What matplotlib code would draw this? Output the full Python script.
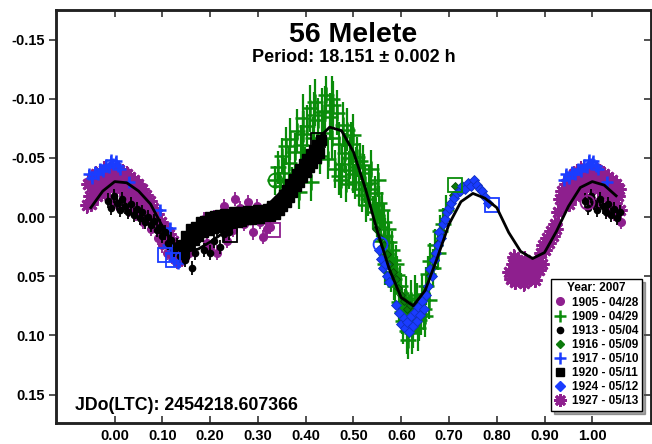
import numpy as np
import matplotlib
matplotlib.use("Agg")
import matplotlib.pyplot as plt
from matplotlib.lines import Line2D

plt.rcParams['font.family'] = ['Liberation Sans', 'DejaVu Sans']
plt.rcParams['font.weight'] = 'bold'
plt.rcParams['axes.unicode_minus'] = False

# ---- data (phase, reduced magnitude) ----
# 1905 - 04/28  purple circles
ph_1905 = [0.985, 0.995, 0.005, 0.015, 0.030, 0.045, 0.060, 0.075, 0.090, 0.100, 0.110, 0.120,
           0.130, 0.140, 0.155, 0.165, 0.175, 0.186, 0.193, 0.200, 0.207, 0.215, 0.228, 0.235,
           0.248, 0.252, 0.262, 0.270, 0.280, 0.290, 0.298, 0.305, 0.310, 0.318, 0.325]
mag_1905 = [-0.016, -0.013, -0.011, -0.014, -0.006, -0.003, 0.004, 0.010, 0.018, 0.024, 0.030, 0.034,
            0.038, 0.036, 0.030, 0.017, 0.012, 0.002, 0.022, 0.026, 0.000, 0.030, -0.009, 0.020,
            0.011, -0.015, -0.008, 0.006, -0.013, 0.013, -0.009, 0.004, 0.017, 0.010, 0.008]

# 1909 - 04/29  green plus, large errors
ph_1909 = [0.336, 0.341, 0.346, 0.350, 0.355, 0.359, 0.364, 0.368, 0.372, 0.377, 0.381, 0.386,
           0.390, 0.394, 0.399, 0.403, 0.408, 0.412, 0.416, 0.420, 0.425, 0.429, 0.433, 0.437,
           0.442, 0.446, 0.450, 0.454, 0.458, 0.462, 0.466, 0.470, 0.474, 0.478, 0.482, 0.486,
           0.490, 0.495, 0.500, 0.504, 0.508, 0.514, 0.518, 0.522, 0.527, 0.532, 0.537, 0.541,
           0.546, 0.551, 0.556, 0.560, 0.565, 0.569, 0.574, 0.578, 0.583, 0.587, 0.592, 0.596,
           0.600, 0.604, 0.608, 0.612, 0.617, 0.621, 0.625, 0.630, 0.634, 0.638, 0.643, 0.647,
           0.652, 0.656, 0.661, 0.666, 0.671, 0.676, 0.681, 0.687, 0.693,
           0.470, 0.476, 0.484, 0.492, 0.498, 0.506, 0.512, 0.520, 0.525, 0.530, 0.535, 0.544,
           0.549, 0.553, 0.558, 0.563, 0.567, 0.572, 0.580, 0.585, 0.590, 0.598, 0.602, 0.610,
           0.615, 0.623, 0.628, 0.636, 0.641, 0.650, 0.658, 0.395, 0.418, 0.440, 0.456]
mag_1909 = [-0.031, -0.042, -0.026, -0.052, -0.037, -0.060, -0.046, -0.066, -0.030, -0.055, -0.073, -0.021,
            -0.061, -0.084, -0.044, -0.077, -0.092, -0.030, -0.067, -0.097, -0.082, -0.052, -0.089, -0.071,
            -0.103, -0.049, -0.085, -0.067, -0.095, -0.041, -0.088, -0.062, -0.031, -0.078, -0.054, -0.074,
            -0.040, -0.062, -0.069, -0.030, -0.051, -0.047, -0.019, -0.037, -0.010, -0.029, -0.041, -0.004,
            -0.020, -0.031, 0.008, -0.006, 0.016, 0.031, 0.021, 0.046, 0.036, 0.058, 0.049, 0.072,
            0.064, 0.088, 0.079, 0.096, 0.084, 0.070, 0.092, 0.080, 0.073, 0.087, 0.065, 0.078,
            0.058, 0.048, 0.037, 0.043, 0.024, 0.030, 0.012, 0.006, -0.006,
            -0.035, -0.045, -0.028, -0.050, -0.036, -0.042, -0.024, -0.044, -0.028, -0.015, -0.024, -0.010,
            0.002, -0.012, 0.020, 0.004, 0.040, 0.010, 0.028, 0.052, 0.040, 0.058, 0.080, 0.068,
            0.104, 0.098, 0.066, 0.094, 0.082, 0.084, 0.070, -0.070, -0.086, -0.090, -0.100]
err_1909 = [0.012, 0.014, 0.012, 0.015, 0.013, 0.016, 0.014, 0.018, 0.012, 0.016, 0.018, 0.014,
            0.017, 0.020, 0.015, 0.018, 0.020, 0.016, 0.018, 0.020, 0.019, 0.016, 0.020, 0.018,
            0.016, 0.017, 0.020, 0.018, 0.020, 0.016, 0.019, 0.018, 0.015, 0.019, 0.017, 0.018,
            0.016, 0.018, 0.018, 0.015, 0.017, 0.016, 0.015, 0.016, 0.014, 0.015, 0.016, 0.014,
            0.015, 0.014, 0.014, 0.015, 0.015, 0.016, 0.015, 0.017, 0.016, 0.017, 0.016, 0.018,
            0.017, 0.019, 0.018, 0.020, 0.018, 0.017, 0.019, 0.018, 0.017, 0.018, 0.016, 0.017,
            0.016, 0.015, 0.015, 0.016, 0.014, 0.015, 0.014, 0.014, 0.013,
            0.016, 0.017, 0.015, 0.018, 0.016, 0.017, 0.015, 0.017, 0.016, 0.014, 0.015, 0.014,
            0.015, 0.014, 0.016, 0.015, 0.017, 0.015, 0.016, 0.018, 0.016, 0.017, 0.019, 0.018,
            0.016, 0.018, 0.017, 0.019, 0.018, 0.017, 0.016, 0.020, 0.020, 0.021, 0.019]

# 1913 - 05/04  small black circles
ph_1913 = [0.985, 0.992, 0.998, 0.004, 0.010, 0.016, 0.022, 0.028, 0.034, 0.040, 0.046, 0.052,
           0.058, 0.064, 0.070, 0.076, 0.082, 0.088, 0.094, 0.100, 0.106, 0.112, 0.118, 0.124,
           0.130, 0.136, 0.142, 0.148, 0.154, 0.161, 0.168, 0.174, 0.179, 0.186, 0.193, 0.200,
           0.207, 0.214, 0.220, 0.228, 0.235, 0.240, 0.246]
mag_1913 = [-0.014, -0.008, -0.018, -0.012, -0.006, -0.015, -0.009, -0.004, -0.011, -0.002, -0.007, 0.001,
            -0.004, 0.004, 0.000, 0.007, 0.003, 0.011, 0.008, 0.016, 0.013, 0.022, 0.019, 0.028,
            0.024, 0.033, 0.028, 0.036, 0.022, 0.043, 0.030, 0.018, 0.016, 0.028, 0.012, 0.030,
            0.020, 0.010, 0.025, 0.014, 0.008, 0.013, 0.006]

# 1916 - 05/09  green diamonds
ph_1916 = [0.548, 0.556, 0.563, 0.570, 0.575, 0.582, 0.588, 0.594, 0.600, 0.606, 0.612, 0.618,
           0.624, 0.630, 0.636, 0.642, 0.648, 0.654, 0.660, 0.666, 0.672, 0.678, 0.684, 0.690,
           0.696, 0.702, 0.708, 0.712]
mag_1916 = [0.010, 0.018, 0.024, 0.031, 0.040, 0.046, 0.052, 0.060, 0.066, 0.071, 0.078, 0.074,
            0.082, 0.077, 0.079, 0.072, 0.066, 0.059, 0.049, 0.042, 0.031, 0.022, 0.012, 0.002,
            -0.006, -0.012, -0.019, -0.026]

# 1917 - 05/10  blue plus
ph_1917 = [0.940, 0.946, 0.952, 0.958, 0.964, 0.970, 0.976, 0.982, 0.988, 0.993, 0.997, 0.002,
           0.007, 0.011, 0.030, 0.095, 0.116, 0.112, 0.118, 0.124, 0.128, 0.132]
mag_1917 = [-0.031, -0.036, -0.033, -0.038, -0.036, -0.041, -0.039, -0.044, -0.042, -0.048, -0.045, -0.047,
            -0.043, -0.041, -0.030, -0.006, 0.009, 0.024, 0.030, 0.036, 0.027, 0.039]

# 1920 - 05/11  black squares (dense band)
ph_1920 = [0.140, 0.150, 0.160, 0.170, 0.180, 0.190, 0.200, 0.210, 0.220, 0.230, 0.240, 0.250,
           0.260, 0.270, 0.280, 0.290, 0.300, 0.310, 0.320, 0.330, 0.340, 0.347, 0.354, 0.361,
           0.368, 0.375, 0.382, 0.389, 0.396, 0.403, 0.410, 0.417, 0.424, 0.431,
           0.145, 0.155, 0.165, 0.175, 0.185, 0.195, 0.205, 0.215, 0.225, 0.235, 0.245, 0.255,
           0.265, 0.275, 0.285, 0.295, 0.305, 0.315, 0.325, 0.335, 0.344, 0.351, 0.358, 0.365,
           0.372, 0.379, 0.386, 0.393, 0.400, 0.407, 0.414, 0.421, 0.428]
mag_1920 = [0.024, 0.016, 0.010, 0.008, 0.004, 0.003, 0.000, -0.001, -0.002, -0.003, -0.002, -0.004,
            -0.004, -0.003, -0.005, -0.004, -0.006, -0.005, -0.007, -0.009, -0.010, -0.014, -0.019, -0.023,
            -0.028, -0.032, -0.036, -0.041, -0.045, -0.049, -0.053, -0.057, -0.061, -0.065,
            0.030, 0.024, 0.019, 0.016, 0.013, 0.011, 0.009, 0.008, 0.006, 0.006, 0.004, 0.004,
            0.003, 0.002, 0.002, 0.001, 0.001, 0.000, -0.001, -0.003, -0.006, -0.009, -0.013, -0.017,
            -0.021, -0.026, -0.030, -0.034, -0.038, -0.042, -0.046, -0.050, -0.054]

# 1924 - 05/12  blue diamonds
ph_1924 = [0.553, 0.558, 0.562, 0.566, 0.570, 0.575, 0.590, 0.596, 0.600, 0.605, 0.608, 0.612,
           0.616, 0.620, 0.624, 0.628, 0.632, 0.636, 0.640, 0.644, 0.648, 0.652, 0.656, 0.660,
           0.664, 0.668, 0.672, 0.676, 0.680, 0.684, 0.688, 0.692, 0.696, 0.700, 0.704, 0.710,
           0.716, 0.722, 0.728, 0.734, 0.740, 0.746, 0.752, 0.758, 0.764, 0.770, 0.776, 0.782]
mag_1924 = [0.028, 0.035, 0.043, 0.040, 0.050, 0.055, 0.074, 0.081, 0.090, 0.085, 0.094, 0.089,
            0.097, 0.084, 0.092, 0.080, 0.088, 0.076, 0.083, 0.071, 0.078, 0.066, 0.058, 0.044,
            0.050, 0.036, 0.030, 0.024, 0.013, 0.018, 0.006, 0.002, -0.004, -0.008, -0.012, -0.016,
            -0.020, -0.022, -0.026, -0.024, -0.029, -0.026, -0.031, -0.027, -0.024, -0.022, -0.017, -0.012]

# 1927 - 05/13  purple asterisks
ph_1927 = [0.825, 0.830, 0.834, 0.838, 0.842, 0.846, 0.850, 0.853, 0.857, 0.861, 0.865, 0.869,
           0.873, 0.878, 0.883, 0.888, 0.893, 0.897, 0.901, 0.905, 0.909, 0.913, 0.917, 0.921,
           0.925, 0.929, 0.933, 0.937, 0.941, 0.945, 0.949, 0.953, 0.957, 0.961, 0.965, 0.969,
           0.973, 0.977, 0.981, 0.985, 0.989, 0.993, 0.997, 0.001, 0.005, 0.009, 0.013, 0.017,
           0.021, 0.025, 0.029, 0.033, 0.037, 0.041, 0.045, 0.049, 0.053, 0.057, 0.061, 0.065,
           0.069, 0.073, 0.077, 0.081, 0.085, 0.089, 0.093, 0.097, 0.101, 0.105, 0.109, 0.113,
           0.117, 0.121, 0.125, 0.129, 0.133,
           0.951, 0.963, 0.975, 0.987, 0.999, 0.011, 0.023, 0.035, 0.047, 0.059, 0.071,
           0.836, 0.859, 0.880, 0.895]
mag_1927 = [0.046, 0.052, 0.040, 0.055, 0.047, 0.038, 0.050, 0.043, 0.056, 0.046, 0.040, 0.052,
            0.044, 0.048, 0.038, 0.045, 0.030, 0.024, 0.028, 0.018, 0.022, 0.012, 0.016, 0.006,
            0.010, -0.004, -0.015, -0.022, -0.010, -0.028, -0.018, -0.032, -0.024, -0.036, -0.027, -0.038,
            -0.030, -0.040, -0.031, -0.038, -0.033, -0.041, -0.034, -0.039, -0.032, -0.040, -0.034, -0.038,
            -0.031, -0.036, -0.028, -0.034, -0.026, -0.031, -0.022, -0.028, -0.018, -0.024, -0.014, -0.019,
            -0.009, -0.014, -0.004, -0.008, 0.002, -0.003, 0.008, 0.004, 0.013, 0.009, 0.018, 0.014,
            0.024, 0.020, 0.030, 0.026, 0.036,
            -0.011, -0.018, -0.022, -0.025, -0.026, -0.024, -0.021, -0.017, -0.012, -0.006, 0.000,
            0.034, 0.036, 0.053, 0.040]

# first point of each session (open symbols)
start_ph = [0.336, 0.426, 0.241, 0.332, 0.105, 0.122, 0.555, 0.712, 0.789, 0.831, 0.990]
start_mag = [-0.031, -0.065, 0.015, 0.011, 0.032, 0.036, 0.023, -0.027, -0.010, 0.050, -0.013]
start_sym = ['o', 's', 's', 's', 's', 's', 'o', 's', 's', 'o', 'o']
start_col = ['green', 'black', 'black', 'purple', 'blue', 'blue', 'blue', 'green', 'blue', 'purple', 'purple']

# Fourier fit
fit_ph = [-0.050, -0.025, 0.000, 0.025, 0.050, 0.075, 0.100, 0.125, 0.150, 0.175, 0.200, 0.225,
          0.250, 0.275, 0.300, 0.325, 0.350, 0.375, 0.400, 0.425, 0.450, 0.475, 0.500, 0.525,
          0.550, 0.575, 0.600, 0.625, 0.650, 0.675, 0.700, 0.725, 0.750, 0.775, 0.800, 0.825,
          0.850, 0.875, 0.900, 0.925, 0.950, 0.975, 1.000, 1.025, 1.050]
fit_mag = [-0.008, -0.022, -0.030, -0.029, -0.022, -0.011, 0.008, 0.023, 0.029, 0.027, 0.021, 0.014,
           0.008, 0.002, -0.004, -0.012, -0.022, -0.035, -0.050, -0.066, -0.076, -0.073, -0.055, -0.024,
           0.012, 0.044, 0.068, 0.075, 0.062, 0.035, 0.006, -0.013, -0.020, -0.016, -0.008, 0.013,
           0.029, 0.035, 0.030, 0.012, -0.009, -0.025, -0.030, -0.027, -0.018]

colors = {'purple': '#8E1F8E', 'green': '#0A8C0A', 'blue': '#1A3CFF', 'black': '#000000',
          'dkgreen': '#0B7A0B'}


def wrap(ph, mag, err=None):
    # repeat data one cycle left and right so it fills -0.06 .. 1.06
    ph = np.asarray(ph)
    mag = np.asarray(mag)
    xs = np.concatenate([ph - 1, ph, ph + 1])
    ys = np.concatenate([mag, mag, mag])
    keep = (xs >= -0.06) & (xs <= 1.06)
    if err is None:
        return xs[keep], ys[keep], None
    es = np.concatenate([err, err, err])
    return xs[keep], ys[keep], np.asarray(es)[keep]


fig = plt.figure(figsize=(6.52, 4.44), dpi=100)
ax = fig.add_axes([56 / 652, 21 / 444, 595 / 652, 413 / 444])

# 1927 purple asterisks (bottom layer)
x, y, _ = wrap(ph_1927, mag_1927)
ax.errorbar(x, y, yerr=0.007, fmt='none', ecolor=colors['purple'], elinewidth=1.5, zorder=2)
ax.plot(x, y, ls='none', marker=(8, 2, 0), ms=10, mew=2.0, color=colors['purple'], zorder=2)

# 1905 purple circles
x, y, _ = wrap(ph_1905, mag_1905)
ax.errorbar(x, y, yerr=0.006, fmt='o', ms=5.5, color=colors['purple'], ecolor=colors['purple'],
            elinewidth=1.3, capsize=0, zorder=3)

# 1917 blue plus
x, y, _ = wrap(ph_1917, mag_1917)
ax.errorbar(x, y, yerr=0.004, fmt='+', ms=9, mew=1.8, color=colors['blue'], ecolor=colors['blue'],
            elinewidth=1.3, capsize=0, zorder=3.5)

# 1913 black circles
x, y, _ = wrap(ph_1913, mag_1913)
ax.errorbar(x, y, yerr=0.006, fmt='o', ms=4.5, color='black', ecolor='black',
            elinewidth=1.3, capsize=0, zorder=4)

# 1909 green plus with large error bars
x, y, e = wrap(ph_1909, mag_1909, err_1909)
ax.errorbar(x, y, yerr=e, fmt='+', ms=11, mew=1.8, color=colors['green'], ecolor=colors['green'],
            elinewidth=1.6, capsize=0, zorder=4.5)

# 1920 black squares
x, y, _ = wrap(ph_1920, mag_1920)
ax.plot(x, y, ls='none', marker='s', ms=6.5, color='black', zorder=5)

# 1916 green diamonds
x, y, _ = wrap(ph_1916, mag_1916)
ax.plot(x, y, ls='none', marker='D', ms=4.0, color=colors['dkgreen'], mec='#064d06', mew=0.6, zorder=5.5)

# 1924 blue diamonds
x, y, _ = wrap(ph_1924, mag_1924)
ax.plot(x, y, ls='none', marker='D', ms=5.3, color=colors['blue'], mec='#1030c0', mew=0.6, zorder=6)

# session start markers
for p, m, s, c in zip(start_ph, start_mag, start_sym, start_col):
    ax.plot(p, m, ls='none', marker=s, ms=10, mfc='none', mec=colors[c], mew=1.3, zorder=6.5)

# fit curve
ax.plot(fit_ph, fit_mag, color='black', lw=2.0, zorder=7)

ax.set_xlim(-0.123, 1.123)
ax.set_ylim(0.174, -0.175)
xt = [0.0, 0.1, 0.2, 0.3, 0.4, 0.5, 0.6, 0.7, 0.8, 0.9, 1.0]
yt = [-0.15, -0.10, -0.05, 0.0, 0.05, 0.10, 0.15]
ax.set_xticks(xt)
ax.set_xticklabels([f"{v:.2f}" for v in xt])
ax.set_yticks(yt)
ax.set_yticklabels([f"{v:.2f}" for v in yt])
ax.tick_params(axis='x', direction='in', top=True, bottom=True, length=5, width=1.2,
               labelsize=10.5, pad=4, color='#333333')
ax.tick_params(axis='y', direction='out', left=True, right=False, length=5, width=1.2,
               labelsize=10.5, pad=3, color='#333333')
for lab in ax.get_xticklabels() + ax.get_yticklabels():
    lab.set_fontweight('bold')

# right-hand ticks point inward
ax_r = ax.twinx()
ax_r.set_ylim(ax.get_ylim())
ax_r.set_yticks(yt)
ax_r.tick_params(axis='y', direction='in', length=5, width=1.2, labelright=False, color='#333333')

for a in (ax, ax_r):
    for sp in a.spines.values():
        sp.set_linewidth(1.8)
        sp.set_color('#222222')

ax.text(0.5, 0.923, "56 Melete", transform=ax.transAxes, ha='center', va='baseline',
        fontsize=20.5, fontweight='bold')
ax.text(0.5, 0.875, "Period: 18.151 \u00b1 0.002 h", transform=ax.transAxes, ha='center',
        va='baseline', fontsize=13, fontweight='bold')
ax.text(0.032, 0.0315, "JDo(LTC): 2454218.607366", transform=ax.transAxes, ha='left',
        va='baseline', fontsize=12.8, fontweight='bold')

handles = [
    Line2D([], [], ls='none', marker='o', ms=5.5, color=colors['purple']),
    Line2D([], [], ls='none', marker='+', ms=9, mew=1.8, color=colors['green']),
    Line2D([], [], ls='none', marker='o', ms=4.5, color='black'),
    Line2D([], [], ls='none', marker='D', ms=4.5, color=colors['dkgreen']),
    Line2D([], [], ls='none', marker='+', ms=9, mew=1.8, color=colors['blue']),
    Line2D([], [], ls='none', marker='s', ms=6, color='black'),
    Line2D([], [], ls='none', marker='D', ms=5, color=colors['blue']),
    Line2D([], [], ls='none', marker=(8, 2, 0), ms=9, mew=2.0, color=colors['purple']),
]
labels = ["1905 - 04/28", "1909 - 04/29", "1913 - 05/04", "1916 - 05/09",
          "1917 - 05/10", "1920 - 05/11", "1924 - 05/12", "1927 - 05/13"]
leg = ax_r.legend(handles, labels, title="Year: 2007", loc='lower right',
                  bbox_to_anchor=(0.985, 0.029), fontsize=8.5, title_fontsize=8.5,
                  frameon=True, fancybox=False, shadow=True, framealpha=1,
                  edgecolor='black', handlelength=1.0, handletextpad=0.5,
                  labelspacing=0.18, borderpad=0.3, borderaxespad=0)
leg.get_frame().set_linewidth(1.0)
leg.get_title().set_fontweight('bold')
for t in leg.get_texts():
    t.set_fontweight('bold')

fig.savefig("out.png", dpi=100)
